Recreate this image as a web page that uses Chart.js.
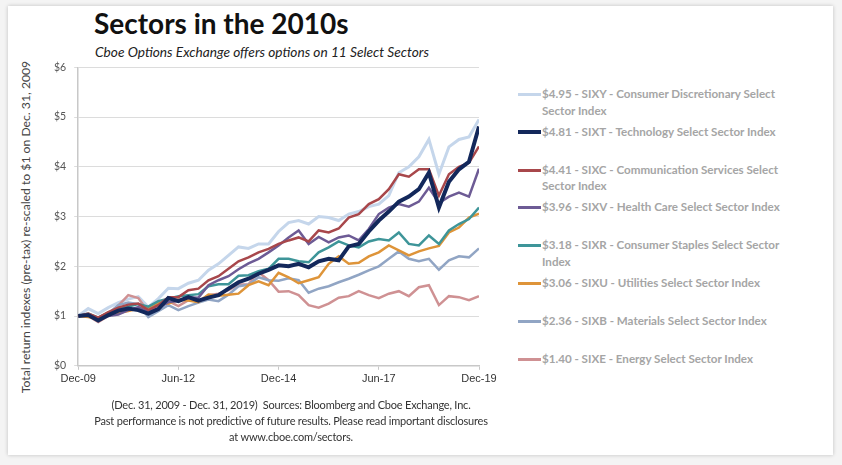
<!DOCTYPE html>
<html>
<head>
<meta charset="utf-8">
<title>Sectors in the 2010s</title>
<script src="https://cdn.jsdelivr.net/npm/chart.js@4.4.0/dist/chart.umd.min.js"></script>
<style>
    html, body {
        margin: 0;
        padding: 0;
        width: 842px;
        height: 465px;
        background: #f4f4f4;
        overflow: hidden;
        font-family: Lato, "Open Sans", sans-serif;
    }
    .card {
        position: absolute;
        left: 8px;
        top: 6px;
        width: 825px;
        height: 449px;
        background: #fff;
        box-shadow: 0 0 4px rgba(0, 0, 0, 0.22);
    }
    .title {
        position: absolute;
        left: 94px;
        top: 6px;
        font-size: 28px;
        font-weight: 700;
        color: #111;
    }
    .subtitle {
        position: absolute;
        left: 95px;
        top: 43px;
        font-size: 13.7px;
        font-style: italic;
        color: #222;
    }
    .y-title {
        position: absolute;
        left: 25px;
        top: 227px;
        transform: translate(-50%, -50%) rotate(-90deg);
        white-space: nowrap;
        font-size: 12.2px;
        color: #444;
    }
    .chart-box {
        position: absolute;
        left: 10px;
        top: 53px;
        width: 490px;
        height: 345px;
    }
    #legend {
        position: absolute;
        left: 518px;
        top: 86px;
        margin: 0;
        padding: 0;
        list-style: none;
    }
    #legend li {
        position: relative;
        height: 37.8px;
        padding-left: 24px;
        width: 250px;
        font-size: 11.6px;
        font-weight: 700;
        line-height: 16.5px;
        color: #a5a5a5;
    }
    #legend li span {
        position: absolute;
        left: 0;
        top: 7px;
        width: 23px;
        height: 3px;
    }
    .footer {
        position: absolute;
        left: 91px;
        top: 397px;
        width: 400px;
        text-align: center;
        white-space: nowrap;
        font-size: 11px;
        letter-spacing: -0.2px;
        line-height: 16px;
        color: #333;
    }
</style>
</head>
<body>
<div class="card"></div>
<div class="title">Sectors in the 2010s</div>
<div class="subtitle">Cboe Options Exchange offers options on 11 Select Sectors</div>
<div class="y-title">Total return indexes (pre-tax) re-scaled to $1 on Dec. 31, 2009</div>
<div class="chart-box"><canvas id="sectorChart"></canvas></div>
<ul id="legend"></ul>
<div class="footer">
    (Dec. 31, 2009 - Dec. 31, 2019)&nbsp; Sources: Bloomberg and Cboe Exchange, Inc.<br>
    Past performance is not predictive of future results. Please read important disclosures<br>
    at www.cboe.com/sectors.
</div>

<script>
// Quarter-end readings, Dec-09 .. Dec-19 (41 points each)
const quarters = [
    'Dec-09', 'Mar-10', 'Jun-10', 'Sep-10', 'Dec-10', 'Mar-11', 'Jun-11', 'Sep-11', 'Dec-11',
    'Mar-12', 'Jun-12', 'Sep-12', 'Dec-12', 'Mar-13', 'Jun-13', 'Sep-13', 'Dec-13',
    'Mar-14', 'Jun-14', 'Sep-14', 'Dec-14', 'Mar-15', 'Jun-15', 'Sep-15', 'Dec-15',
    'Mar-16', 'Jun-16', 'Sep-16', 'Dec-16', 'Mar-17', 'Jun-17', 'Sep-17', 'Dec-17',
    'Mar-18', 'Jun-18', 'Sep-18', 'Dec-18', 'Mar-19', 'Jun-19', 'Sep-19', 'Dec-19'
];
const tickLabels = ['Dec-09', 'Jun-12', 'Dec-14', 'Jun-17', 'Dec-19'];
const yTickLabels = ['$0', '$1', '$2', '$3', '$4', '$5', '$6'];

const sixy = [1.00, 1.15, 1.05, 1.17, 1.27, 1.34, 1.39, 1.18, 1.35, 1.56, 1.55, 1.66, 1.72,
    1.92, 2.05, 2.22, 2.39, 2.36, 2.45, 2.45, 2.70, 2.88, 2.92, 2.85, 3.00, 2.98, 2.92,
    3.05, 3.10, 3.20, 3.25, 3.42, 3.88, 4.00, 4.20, 4.55, 3.85, 4.40, 4.55, 4.60, 4.95];
const sixt = [1.00, 1.02, 0.91, 1.02, 1.11, 1.15, 1.12, 1.05, 1.14, 1.36, 1.30, 1.38, 1.31,
    1.37, 1.42, 1.55, 1.68, 1.75, 1.85, 1.93, 2.02, 2.00, 2.05, 1.98, 2.10, 2.15, 2.12,
    2.40, 2.45, 2.70, 2.92, 3.10, 3.30, 3.40, 3.55, 3.88, 3.18, 3.70, 3.95, 4.10, 4.81];
const sixc = [1.00, 1.05, 0.97, 1.08, 1.17, 1.23, 1.25, 1.12, 1.22, 1.38, 1.38, 1.52, 1.55,
    1.72, 1.80, 1.95, 2.10, 2.18, 2.28, 2.35, 2.45, 2.52, 2.58, 2.50, 2.72, 2.68, 2.76,
    2.98, 3.05, 3.25, 3.35, 3.55, 3.85, 3.80, 3.95, 3.95, 3.42, 3.85, 4.00, 4.08, 4.41];
const sixv = [1.00, 1.02, 0.92, 1.00, 1.03, 1.12, 1.18, 1.08, 1.16, 1.28, 1.30, 1.38, 1.37,
    1.62, 1.72, 1.80, 1.94, 2.06, 2.15, 2.28, 2.42, 2.58, 2.72, 2.45, 2.59, 2.48, 2.58,
    2.62, 2.52, 2.75, 3.05, 3.18, 3.25, 3.20, 3.30, 3.58, 3.27, 3.40, 3.48, 3.40, 3.96];
const sixr = [1.00, 1.05, 0.97, 1.07, 1.14, 1.19, 1.24, 1.19, 1.30, 1.35, 1.40, 1.42, 1.44,
    1.60, 1.64, 1.64, 1.81, 1.82, 1.90, 1.95, 2.15, 2.15, 2.10, 2.08, 2.28, 2.38, 2.50,
    2.42, 2.38, 2.50, 2.55, 2.52, 2.68, 2.45, 2.42, 2.62, 2.45, 2.72, 2.85, 2.95, 3.18];
const sixu = [1.00, 0.98, 0.94, 1.06, 1.06, 1.10, 1.15, 1.16, 1.27, 1.25, 1.33, 1.31, 1.28,
    1.43, 1.41, 1.43, 1.45, 1.62, 1.70, 1.62, 1.87, 1.78, 1.66, 1.72, 1.78, 2.05, 2.20,
    2.05, 2.07, 2.20, 2.28, 2.42, 2.32, 2.22, 2.30, 2.36, 2.41, 2.68, 2.78, 2.98, 3.06];
const sixb = [1.00, 1.03, 0.91, 1.05, 1.22, 1.27, 1.24, 0.98, 1.10, 1.22, 1.12, 1.20, 1.27,
    1.33, 1.30, 1.43, 1.60, 1.63, 1.78, 1.72, 1.71, 1.76, 1.72, 1.47, 1.55, 1.60, 1.68,
    1.75, 1.83, 1.92, 2.00, 2.15, 2.30, 2.15, 2.10, 2.15, 1.93, 2.12, 2.20, 2.18, 2.36];
const sixe = [1.00, 1.00, 0.88, 1.00, 1.21, 1.42, 1.36, 1.08, 1.24, 1.30, 1.20, 1.32, 1.30,
    1.42, 1.45, 1.52, 1.63, 1.64, 1.88, 1.72, 1.49, 1.50, 1.42, 1.22, 1.17, 1.25, 1.37,
    1.40, 1.50, 1.42, 1.36, 1.45, 1.50, 1.40, 1.58, 1.62, 1.22, 1.40, 1.38, 1.32, 1.40];

const seriesLabels = [
    '$4.95 - SIXY - Consumer Discretionary Select Sector Index',
    '$4.81 - SIXT - Technology Select Sector Index',
    '$4.41 - SIXC - Communication Services Select Sector Index',
    '$3.96 - SIXV - Health Care Select Sector Index',
    '$3.18 - SIXR - Consumer Staples Select Sector Index',
    '$3.06 - SIXU - Utilities Select Sector Index',
    '$2.36 - SIXB - Materials Select Sector Index',
    '$1.40 - SIXE - Energy Select Sector Index'
];
const seriesValues = [sixy, sixt, sixc, sixv, sixr, sixu, sixb, sixe];
const seriesColors = ['#c5d6eb', '#13285b', '#a8474b', '#6d5b95', '#3e9599', '#de9439', '#91a5c4', '#cf9193'];
const seriesWidths = [3, 4, 2.5, 2.5, 2.5, 2.5, 2.5, 2.5];

function buildDatasets() {
    return seriesValues.map((values, i) => ({
        label: seriesLabels[i],
        data: values.map((v, q) => ({ x: q, y: v })),
        borderColor: seriesColors[i],
        backgroundColor: seriesColors[i],
        borderWidth: seriesWidths[i],
        pointRadius: 0,
        tension: 0,
        // technology on top, consumer discretionary underneath
        order: i === 1 ? 0 : (i === 0 ? 9 : 1)
    }));
}

function buildLegend() {
    const list = document.getElementById('legend');
    seriesLabels.forEach((label, i) => {
        const item = document.createElement('li');
        const swatch = document.createElement('span');
        swatch.style.background = seriesColors[i];
        if (i === 1) {
            swatch.style.height = '4px';
            swatch.style.top = '6.5px';
        }
        item.appendChild(swatch);
        item.appendChild(document.createTextNode(label));
        list.appendChild(item);
    });
}

function initChart() {
    const ctx = document.getElementById('sectorChart').getContext('2d');
    new Chart(ctx, {
        type: 'line',
        data: { datasets: buildDatasets() },
        options: {
            responsive: true,
            maintainAspectRatio: false,
            animation: false,
            layout: {
                padding: { left: 36, right: 21, top: 0, bottom: 9 }
            },
            plugins: {
                legend: { display: false },
                tooltip: { enabled: false }
            },
            scales: {
                x: {
                    type: 'linear',
                    min: 0,
                    max: quarters.length - 1,
                    border: { color: '#c8c8c8', width: 1.5 },
                    grid: { display: true, drawOnChartArea: false, color: '#c8c8c8', tickLength: 4 },
                    ticks: {
                        stepSize: 10,
                        color: '#333',
                        font: { family: 'Liberation Sans', size: 11 },
                        padding: 3,
                        maxRotation: 0,
                        callback: (value) => tickLabels[value / 10]
                    }
                },
                y: {
                    min: 0,
                    max: 6,
                    border: { color: '#c8c8c8', width: 1.5 },
                    grid: { color: '#dcdcdc', lineWidth: 1, tickLength: 4 },
                    ticks: {
                        stepSize: 1,
                        color: '#555',
                        font: { family: 'Lato', size: 10.5 },
                        padding: 8,
                        callback: (value) => yTickLabels[value]
                    }
                }
            }
        }
    });
}

document.addEventListener('DOMContentLoaded', () => {
    buildLegend();
    initChart();
});
</script>
</body>
</html>
